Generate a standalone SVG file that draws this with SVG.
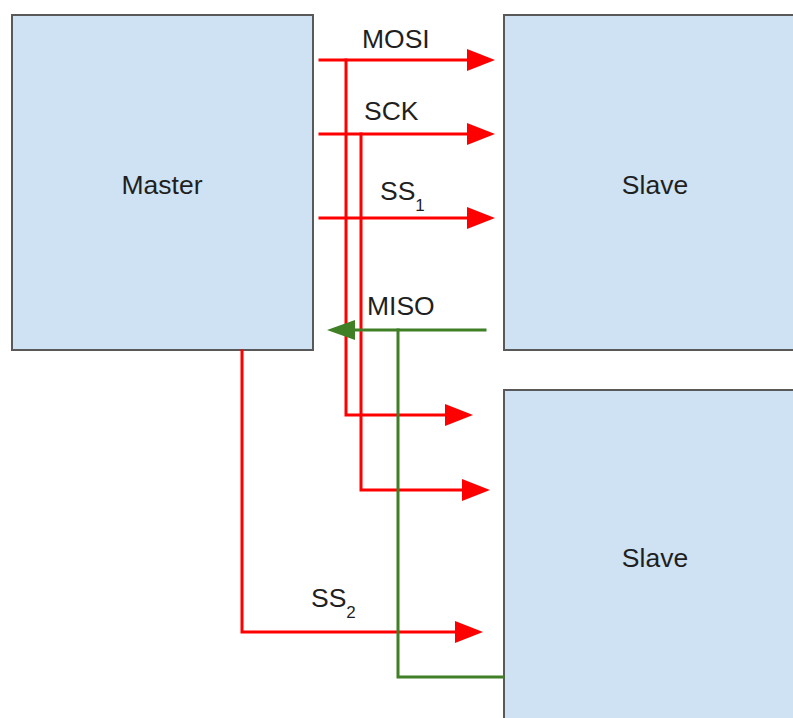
<svg xmlns="http://www.w3.org/2000/svg" width="793" height="718" viewBox="0 0 793 718">
<style>
.box{fill:#cfe2f3;stroke:#595959;stroke-width:2}
.lbl{font-family:"Liberation Sans",Arial,sans-serif;font-size:26.5px;fill:#1f1f1f}
.red{fill:none;stroke:#ff0000;stroke-width:3;stroke-linejoin:miter;stroke-linecap:square}
.grn{fill:none;stroke:#3f7f26;stroke-width:3;stroke-linejoin:miter;stroke-linecap:square}
.sub{font-size:17px}
</style>
<defs>
<marker id="ahr" markerUnits="userSpaceOnUse" markerWidth="30" markerHeight="24" viewBox="0 -12 30 24" refX="0" refY="0" orient="auto">
<path d="M0,-11 L28,0 L0,11 z" fill="#ff0000"/>
</marker>
<marker id="ahg" markerUnits="userSpaceOnUse" markerWidth="30" markerHeight="24" viewBox="0 -12 30 24" refX="0" refY="0" orient="auto">
<path d="M0,-10 L28,0 L0,10 z" fill="#3f7f26"/>
</marker>
</defs>
<rect width="793" height="718" fill="#ffffff"/>
<g id="master">
<rect class="box" x="12" y="15" width="301" height="335"/>
<text class="lbl" x="162" y="194" text-anchor="middle">Master</text>
</g>
<g id="slave1">
<rect class="box" x="504" y="15" width="300" height="335"/>
<text class="lbl" x="655" y="194" text-anchor="middle">Slave</text>
</g>
<g id="slave2">
<rect class="box" x="504" y="390" width="300" height="340"/>
<text class="lbl" x="655" y="567" text-anchor="middle">Slave</text>
</g>
<g id="connectors">
<path class="red" d="M320,60 H467" marker-end="url(#ahr)"/>
<path class="red" d="M320,134 H467" marker-end="url(#ahr)"/>
<path class="red" d="M320,218 H467" marker-end="url(#ahr)"/>
<path class="red" d="M346,60 V415 H445" marker-end="url(#ahr)"/>
<path class="red" d="M361,134 V490 H462" marker-end="url(#ahr)"/>
<path class="red" d="M242,351 V632 H455" marker-end="url(#ahr)"/>
<path class="grn" d="M485,330 H355" marker-end="url(#ahg)"/>
<path class="grn" d="M398,330 V677 H503"/>
</g>
<g id="labels">
<text class="lbl" x="362" y="48">MOSI</text>
<text class="lbl" x="364" y="120">SCK</text>
<text class="lbl" x="380" y="200">SS<tspan class="sub" dy="11">1</tspan></text>
<text class="lbl" x="367" y="315">MISO</text>
<text class="lbl" x="311" y="607">SS<tspan class="sub" dy="11">2</tspan></text>
</g>
</svg>
